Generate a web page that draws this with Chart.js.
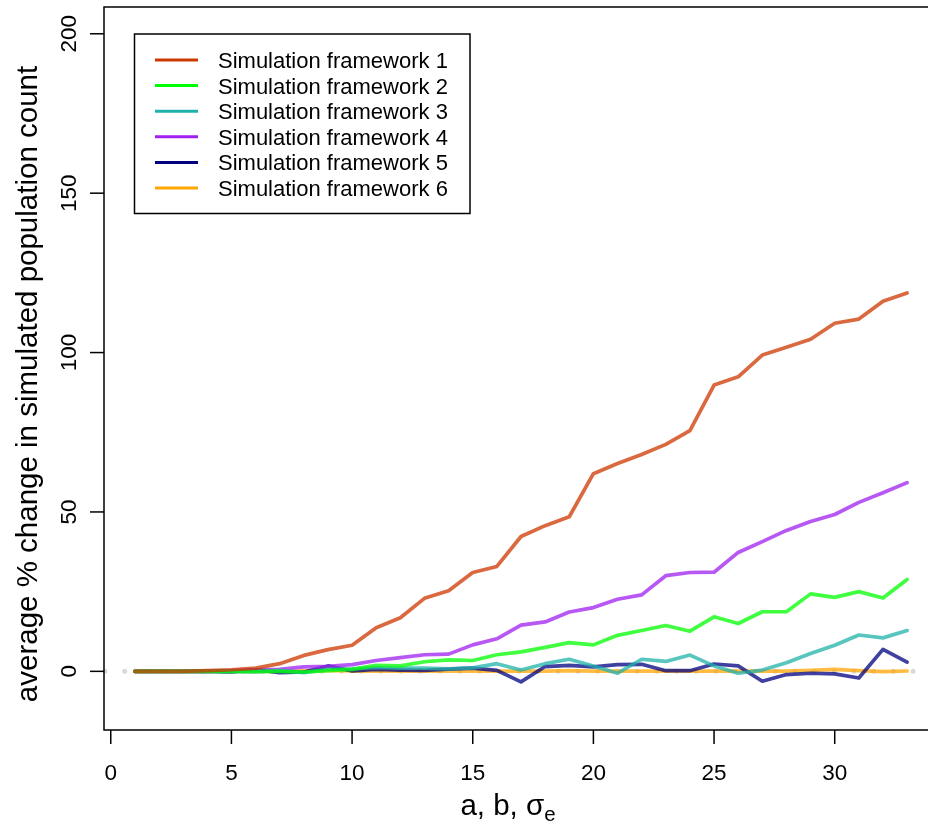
<!DOCTYPE html>
<html>
<head>
<meta charset="utf-8">
<title>Simulation frameworks</title>
<script src="https://cdn.jsdelivr.net/npm/chart.js@4"></script>
<style>
  html, body { margin: 0; padding: 0; background: #fff; overflow: hidden; }
  #wrap { width: 950px; height: 824px; }
</style>
</head>
<body>
<div id="wrap"><canvas id="myChart" width="950" height="824"></canvas></div>
<script>
// parameter steps (a, b, sigma_e) on the x axis
var steps = [1, 2, 3, 4, 5, 6, 7, 8, 9, 10, 11, 12, 13, 14, 15, 16, 17,
             18, 19, 20, 21, 22, 23, 24, 25, 26, 27, 28, 29, 30, 31, 32, 33];

// average % change in simulated population count, one array per framework
var fw1 = [0, 0, 0, 0.2, 0.5, 1.0, 2.4, 5.0, 6.8, 8.2, 13.7, 16.8, 22.9, 25.3, 31.0, 32.9, 42.3,
           45.7, 48.5, 62.0, 65.2, 68.0, 71.2, 75.5, 89.8, 92.4, 99.2, 101.7, 104.2, 109.2, 110.5, 116.1, 118.7];
var fw2 = [0, 0, 0, 0, 0, 0, 0, -0.2, 0.2, 0.6, 1.9, 1.7, 3.0, 3.6, 3.4, 5.2, 6.1,
           7.5, 9.0, 8.3, 11.3, 12.8, 14.4, 12.6, 17.1, 15.0, 18.7, 18.7, 24.3, 23.2, 25.0, 23.0, 28.8];
var fw3 = [0, 0, 0, 0, 0, -0.2, 0.3, -0.4, 0.6, 0.8, 1.2, 1.0, 1.0, 0.8, 1.1, 2.4, 0.4,
           2.4, 3.8, 1.7, -0.6, 3.8, 3.1, 5.1, 1.7, -0.6, 0.4, 2.7, 5.6, 8.2, 11.4, 10.5, 12.8];
var fw4 = [0, 0, 0, 0, 0.2, 0.5, 0.6, 1.4, 1.6, 2.1, 3.4, 4.3, 5.2, 5.4, 8.3, 10.2, 14.5,
           15.5, 18.6, 20.0, 22.6, 24.0, 30.0, 31.0, 31.1, 37.3, 40.7, 44.2, 47.0, 49.2, 53.0, 56.0, 59.2];
var fw5 = [0, 0, 0, 0, -0.2, 0.5, -0.4, -0.2, 1.7, 0.1, 0.6, 0.4, 0.3, 0.7, 1.0, 0.3, -3.3,
           1.5, 1.9, 1.4, 2.1, 2.2, 0.2, 0.2, 2.3, 1.7, -3.1, -1.0, -0.6, -0.8, -2.1, 6.9, 2.9];
var fw6 = [0, 0, 0, 0, 0, 0, 0, 0.1, 0.3, 0.1, 0.1, 0.1, 0.1, 0.1, 0.1, 0.1, 0.1,
           0.1, 0.2, 0.1, 0.1, 0.1, 0.1, 0.1, 0.1, 0.1, 0.1, 0.1, 0.3, 0.6, 0.2, -0.1, 0.1];

var seriesNames = ['Simulation framework 1', 'Simulation framework 2', 'Simulation framework 3',
                   'Simulation framework 4', 'Simulation framework 5', 'Simulation framework 6'];
var lineColors = ['#CD3700', '#00FF00', '#20B2AA', '#A020F0', '#000080', '#FFA500'];

var xTicks = [0, 5, 10, 15, 20, 25, 30];
var yTicks = [0, 50, 100, 150, 200];

var FONT = '"Liberation Sans", Arial, Helvetica, sans-serif';

function withAlpha(hex, a) {
    var r = parseInt(hex.substr(1, 2), 16), g = parseInt(hex.substr(3, 2), 16), b = parseInt(hex.substr(5, 2), 16);
    return 'rgba(' + r + ',' + g + ',' + b + ',' + a + ')';
}

var series = [fw1, fw2, fw3, fw4, fw5, fw6];
var datasets = [];
for (var i = 0; i < series.length; i++) {
    var vals = series[i];
    datasets.push({
        label: seriesNames[i],
        data: steps.map(function(s, j) { return { x: s, y: vals[j] }; }),
        borderColor: withAlpha(lineColors[i], 0.75),
        borderWidth: 3.7,
        pointRadius: 0,
        tension: 0,
        borderJoinStyle: 'round',
        borderCapStyle: 'round'
    });
}

// base-graphics style box, axes, titles and legend
var rAxes = {
    id: 'rAxes',
    beforeDatasetsDraw: function(chart) {
        var ctx = chart.ctx, a = chart.chartArea;
        var y0 = chart.scales.y.getPixelForValue(0);
        // dotted reference line at zero
        ctx.save();
        ctx.strokeStyle = '#d9d9d9';
        ctx.lineWidth = 5;
        ctx.lineCap = 'round';
        ctx.setLineDash([0.01, 19.7]);
        ctx.beginPath();
        ctx.moveTo(a.left + 1, y0);
        ctx.lineTo(a.right, y0);
        ctx.stroke();
        ctx.restore();
    },
    afterDraw: function(chart) {
        var ctx = chart.ctx, a = chart.chartArea;
        var xs = chart.scales.x, ys = chart.scales.y;
        ctx.save();
        ctx.strokeStyle = '#000';
        ctx.fillStyle = '#000';
        ctx.lineWidth = 1.5;
        ctx.strokeRect(a.left, a.top, a.right - a.left, a.bottom - a.top);

        // x axis
        ctx.font = '22.5px ' + FONT;
        ctx.textAlign = 'center';
        ctx.textBaseline = 'alphabetic';
        xTicks.forEach(function(v) {
            var px = xs.getPixelForValue(v);
            ctx.beginPath();
            ctx.moveTo(px, a.bottom);
            ctx.lineTo(px, a.bottom + 14);
            ctx.stroke();
            ctx.fillText(String(v), px, 780);
        });

        // y axis, labels parallel to the axis
        yTicks.forEach(function(v) {
            var py = ys.getPixelForValue(v);
            ctx.beginPath();
            ctx.moveTo(a.left, py);
            ctx.lineTo(a.left - 14, py);
            ctx.stroke();
            ctx.save();
            ctx.translate(76, py);
            ctx.rotate(-Math.PI / 2);
            ctx.fillText(String(v), 0, 0);
            ctx.restore();
        });

        // axis titles
        ctx.font = '29.5px ' + FONT;
        ctx.save();
        ctx.translate(37, 384);
        ctx.rotate(-Math.PI / 2);
        ctx.fillText('average % change in simulated population count', 0, 0);
        ctx.restore();

        var main = 'a, b, \u03c3', sub = 'e';
        var wMain = ctx.measureText(main).width;
        ctx.font = '20.5px ' + FONT;
        var wSub = ctx.measureText(sub).width;
        var x0 = 508 - (wMain + wSub) / 2;
        ctx.textAlign = 'left';
        ctx.font = '29.5px ' + FONT;
        ctx.fillText(main, x0, 815);
        ctx.font = '20.5px ' + FONT;
        ctx.fillText(sub, x0 + wMain, 821);

        // legend
        ctx.lineWidth = 1.5;
        ctx.strokeRect(134.5, 34, 335.5, 179.5);
        ctx.font = '22px ' + FONT;
        for (var k = 0; k < seriesNames.length; k++) {
            var ry = 60 + k * 25.6;
            ctx.strokeStyle = lineColors[k];
            ctx.lineWidth = 3;
            ctx.beginPath();
            ctx.moveTo(155, ry);
            ctx.lineTo(198, ry);
            ctx.stroke();
            ctx.fillText(seriesNames[k], 218, ry + 8);
        }
        ctx.restore();
    }
};

var ctx = document.getElementById('myChart').getContext('2d');
var chart = new Chart(ctx, {
    type: 'line',
    data: { datasets: datasets },
    options: {
        responsive: false,
        animation: false,
        devicePixelRatio: 1,
        layout: { padding: { left: 104, top: 7, right: 12, bottom: 94 } },
        plugins: { legend: { display: false }, tooltip: { enabled: false } },
        scales: {
            x: { type: 'linear', min: -0.28, max: 34.28, display: false },
            y: { type: 'linear', min: -18.4, max: 208.4, display: false }
        }
    },
    plugins: [rAxes]
});
</script>
</body>
</html>
